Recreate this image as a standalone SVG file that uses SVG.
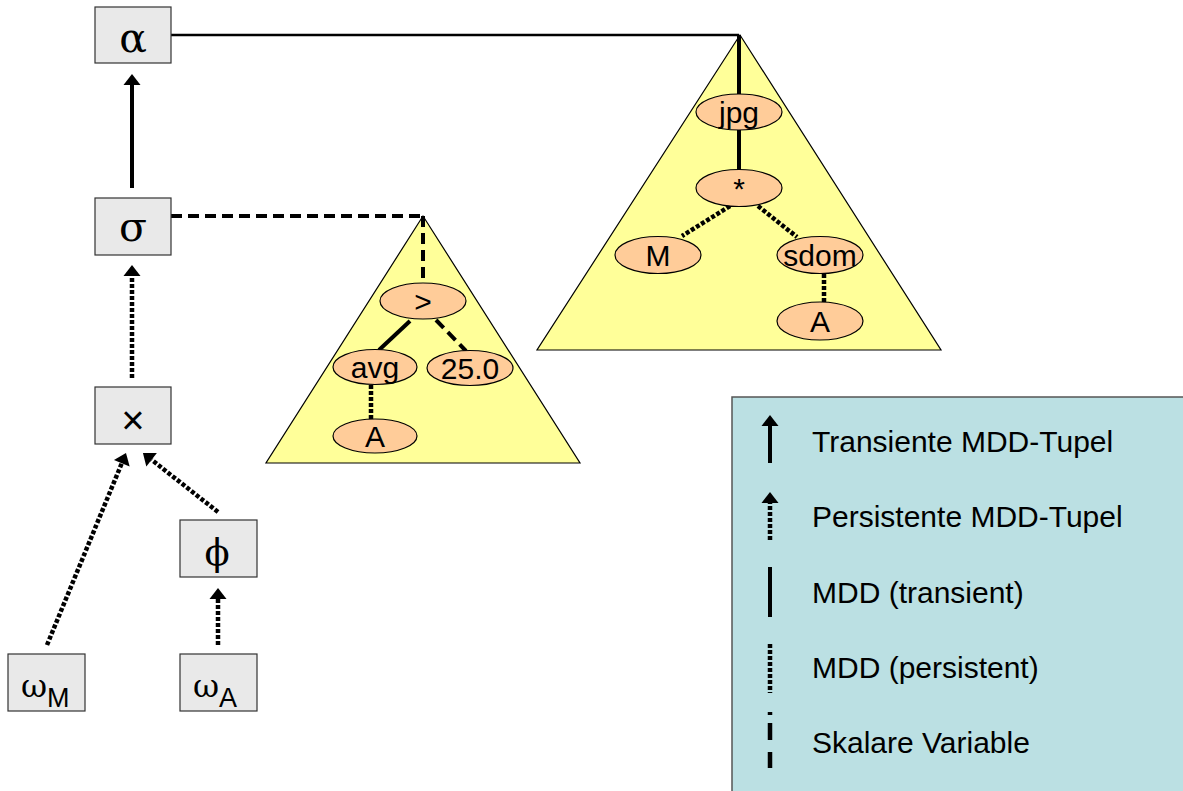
<svg xmlns="http://www.w3.org/2000/svg" width="1183" height="791" viewBox="0 0 1183 791">
  <style>
    .op { fill: #E9E9E9; stroke: #333; stroke-width: 1.2; }
    .tri { fill: #FFFF99; stroke: #000; stroke-width: 1.2; }
    .nd { fill: #FFCC99; stroke: #000; stroke-width: 1.2; }
    .greek { font-family: "DejaVu Serif", "Liberation Serif", serif; fill: #000; }
    .lbl { font-family: "Liberation Sans", Arial, sans-serif; font-size: 30px; fill: #000; text-anchor: middle; }
    .leg { font-family: "Liberation Sans", Arial, sans-serif; font-size: 30px; fill: #000; }
    .sub { font-family: "Liberation Sans", Arial, sans-serif; font-size: 27px; fill: #000; }
    .solid { stroke: #000; stroke-width: 4; fill: none; }
    .thin { stroke: #000; stroke-width: 2.5; fill: none; }
    .dot { stroke: #000; stroke-width: 4.5; fill: none; stroke-dasharray: 4 2; }
    .dash { stroke: #000; stroke-width: 4; fill: none; stroke-dasharray: 11 6; }
  </style>
  <defs>
    <marker id="head" markerUnits="userSpaceOnUse" markerWidth="12" markerHeight="18" refX="0" refY="8.5" orient="auto" overflow="visible">
      <path d="M0,0 L11,8.5 L0,17 z" fill="#000"/>
    </marker>
  </defs>

  <!-- expression trees -->
  <g id="tree-select">
    <polygon class="tri" points="423,216 266,463 580,463"/>
  </g>
  <g id="tree-result">
    <polygon class="tri" points="740,35 537,350 941,350"/>
  </g>

  <!-- connectors -->
  <g id="connectors">
    <!-- operator pipeline -->
    <line class="solid" x1="132" y1="188" x2="132" y2="85" marker-end="url(#head)"/>
    <line class="dot" x1="132" y1="378" x2="132" y2="276" marker-end="url(#head)"/>
    <line class="dot" x1="47" y1="645" x2="121.8" y2="463.2" marker-end="url(#head)"/>
    <line class="dot" x1="218" y1="512" x2="151.6" y2="459.8" marker-end="url(#head)"/>
    <line class="dot" x1="218" y1="645" x2="218" y2="599" marker-end="url(#head)"/>
    <!-- operator to expression tree -->
    <polyline class="thin" points="171,35 739,35"/>
    <line class="solid" x1="739" y1="35" x2="739" y2="94"/>
    <polyline class="dash" points="171,216 423,216"/>
    <line class="dash" x1="423" y1="216" x2="423" y2="283"/>
    <!-- select condition tree -->
    <line class="solid" x1="410" y1="321" x2="379" y2="350"/>
    <line class="dash" x1="436" y1="320" x2="466" y2="351"/>
    <line class="dot" x1="371" y1="385" x2="371" y2="419"/>
    <!-- result tree -->
    <line class="solid" x1="739" y1="130" x2="739" y2="170"/>
    <line class="dot" x1="730" y1="206" x2="682" y2="236"/>
    <line class="dot" x1="758" y1="206" x2="797" y2="237"/>
    <line class="dot" x1="824" y1="274" x2="824" y2="303"/>
  </g>

  <!-- operator boxes -->
  <g id="op-alpha">
    <rect class="op" x="95" y="7" width="76" height="56"/>
    <text class="greek" x="133" y="52" font-size="41" text-anchor="middle">α</text>
  </g>
  <g id="op-sigma">
    <rect class="op" x="95" y="198" width="76" height="57"/>
    <text class="greek" x="133" y="241" font-size="41" text-anchor="middle">σ</text>
  </g>
  <g id="op-cross">
    <rect class="op" x="95" y="387" width="76" height="57"/>
    <text x="133" y="434" font-family="Liberation Sans, Arial, sans-serif" font-size="40" text-anchor="middle">×</text>
  </g>
  <g id="op-phi">
    <rect class="op" x="180" y="520" width="77" height="57"/>
    <text class="greek" x="217" y="565" font-size="37" text-anchor="middle">ϕ</text>
  </g>
  <g id="op-omega-m">
    <rect class="op" x="8" y="654" width="77" height="57"/>
    <text class="greek" x="21" y="697" font-size="32">ω</text>
    <text class="sub" x="47" y="707">M</text>
  </g>
  <g id="op-omega-a">
    <rect class="op" x="180" y="654" width="77" height="57"/>
    <text class="greek" x="193" y="697" font-size="32">ω</text>
    <text class="sub" x="219" y="707">A</text>
  </g>

  <!-- nodes of the select condition -->
  <g id="n-gt">
    <ellipse class="nd" cx="423" cy="301" rx="43" ry="18"/>
    <text class="lbl" x="423" y="311.5">&gt;</text>
  </g>
  <g id="n-avg">
    <ellipse class="nd" cx="375" cy="367" rx="42" ry="17.5"/>
    <text class="lbl" x="375" y="377.5">avg</text>
  </g>
  <g id="n-25">
    <ellipse class="nd" cx="470" cy="368" rx="43" ry="17.5"/>
    <text class="lbl" x="470" y="378.5">25.0</text>
  </g>
  <g id="n-a1">
    <ellipse class="nd" cx="375" cy="436" rx="42" ry="17"/>
    <text class="lbl" x="375" y="446.5">A</text>
  </g>

  <!-- nodes of the result expression -->
  <g id="n-jpg">
    <ellipse class="nd" cx="739" cy="112" rx="43" ry="18"/>
    <text class="lbl" x="739" y="122.5">jpg</text>
  </g>
  <g id="n-mul">
    <ellipse class="nd" cx="739" cy="188" rx="43" ry="18.5"/>
    <text class="lbl" x="739" y="198.5">*</text>
  </g>
  <g id="n-m">
    <ellipse class="nd" cx="658" cy="255" rx="43" ry="18.5"/>
    <text class="lbl" x="658" y="265.5">M</text>
  </g>
  <g id="n-sdom">
    <ellipse class="nd" cx="820" cy="255" rx="43" ry="18.5"/>
    <text class="lbl" x="820" y="265.5">sdom</text>
  </g>
  <g id="n-a2">
    <ellipse class="nd" cx="820" cy="321" rx="43" ry="19"/>
    <text class="lbl" x="820" y="331.5">A</text>
  </g>

  <!-- legend -->
  <g id="legend">
    <rect x="732" y="397" width="470" height="420" fill="#BBE0E3" stroke="#555" stroke-width="1.5"/>
    <line class="solid" x1="770" y1="463" x2="770" y2="426" marker-end="url(#head)"/>
    <text class="leg" x="812" y="452">Transiente MDD-Tupel</text>
    <line class="dot" x1="770" y1="540" x2="770" y2="503" marker-end="url(#head)"/>
    <text class="leg" x="812" y="527">Persistente MDD-Tupel</text>
    <line class="solid" x1="770" y1="567" x2="770" y2="617"/>
    <text class="leg" x="812" y="603">MDD (transient)</text>
    <line class="dot" x1="770" y1="644" x2="770" y2="693"/>
    <text class="leg" x="812" y="678">MDD (persistent)</text>
    <line x1="770" y1="712" x2="770" y2="768" stroke="#000" stroke-width="4.5" stroke-dasharray="3 8 17 12 16 0"/>
    <text class="leg" x="812" y="753">Skalare Variable</text>
  </g>
</svg>
